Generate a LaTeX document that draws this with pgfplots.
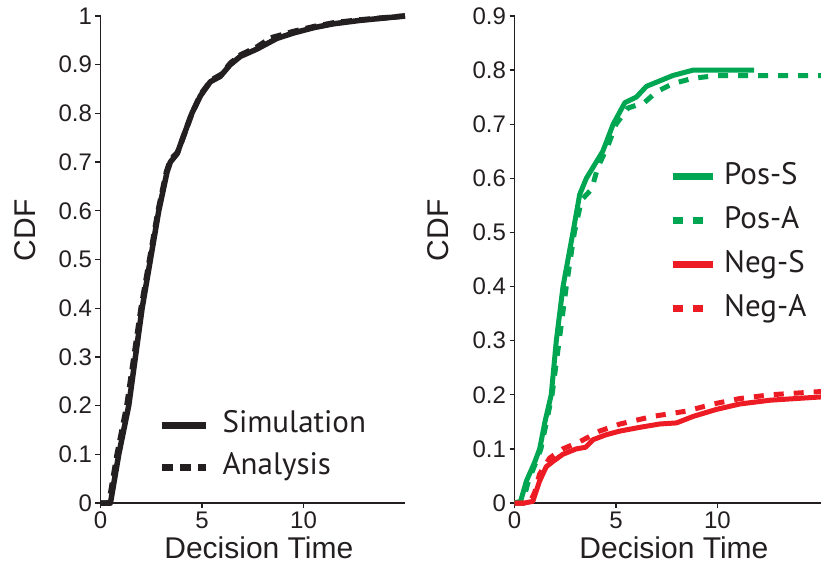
\documentclass[border=0pt]{standalone}
\usepackage{fontspec}
\setmainfont{Liberation Sans}
\newfontfamily\legfont{PT Sans}
\usepackage{pgfplots}
\pgfplotsset{compat=1.18}
\definecolor{cblack}{HTML}{231F20}
\definecolor{cgreen}{HTML}{00A651}
\definecolor{cred}{HTML}{ED1C24}

\pgfplotsset{
  cdfaxis/.style={
    scale only axis, height=487pt, ymin=0, xmin=0,
    axis x line*=bottom, axis y line*=left,
    axis line style={cblack, line width=1.3pt},
    every tick/.style={cblack, line width=1.3pt},
    tick align=outside, major tick length=5pt,
    xtick={0,5,10},
    tick label style={font=\fontsize{24}{28}\selectfont, text=cblack},
    /pgf/number format/assume math mode=true,
    label style={font=\fontsize{30}{34}\selectfont, text=cblack},
    xlabel={Decision Time}, ylabel={CDF},
    xlabel style={at={(axis description cs:0.52,-0.113)}, anchor=base},
    ylabel style={at={(axis description cs:-0.248,0.56)}, anchor=center},
    clip=false,
    legend cell align=left,
    legend style={draw=none, fill=none, inner sep=0pt,
      font=\legfont\fontsize{31}{36}\selectfont, text=cblack,
      row sep=13pt, column sep=13pt,
      nodes={inner sep=0pt, text height=22pt, text depth=7pt}},
  },
}

\begin{document}
\begin{tikzpicture}
\path[use as bounding box] (0,0) rectangle (821pt,563pt);

% ---------------- left panel ----------------
\begin{axis}[cdfaxis,
  at={(100.5pt,60pt)}, anchor=south west,
  width=304.5pt, xmax=15, ymax=1,
  ytick={0,0.1,0.2,0.3,0.4,0.5,0.6,0.7,0.8,0.9,1},
  legend image code/.code={\draw[#1, line width=7pt] (0pt,0pt) -- (44pt,0pt);},
  legend style={at={(axis description cs:0.19,0.19)}, anchor=north west},
]
\addplot[cblack, line width=5.5pt, line join=round] coordinates {
(0,0) (0.49,0) (0.9,0.1) (1.39,0.2) (1.72,0.3) (2.05,0.4) (2.46,0.5)
(2.87,0.6) (3.28,0.68) (3.44,0.7) (3.77,0.717) (4.5,0.8) (4.92,0.836)
(5.41,0.865) (5.9,0.876) (6.39,0.9) (6.89,0.917) (7.7,0.932) (8.69,0.954)
(9.5,0.965) (10.5,0.976) (11.48,0.984) (12.79,0.991) (15,1.0)};
\addlegendentry{Simulation}
\addplot[cblack, line width=5.5pt, dash pattern=on 11pt off 7pt] coordinates {
(0,0) (0.42,0) (0.82,0.1) (1.3,0.2) (1.65,0.3) (2.0,0.4) (2.42,0.5)
(2.84,0.6) (3.25,0.68) (3.45,0.705) (3.8,0.72) (4.5,0.8) (4.95,0.84)
(5.45,0.868) (5.95,0.88) (6.4,0.903) (6.9,0.92) (7.7,0.936) (8.4,0.955)
(9.5,0.968) (10.5,0.978) (11.5,0.986) (12.8,0.992) (15,1.0)};
\addlegendentry{Analysis}
\end{axis}

% ---------------- right panel ----------------
\begin{axis}[cdfaxis,
  at={(514.5pt,60pt)}, anchor=south west,
  width=306.5pt, xmax=15.1, ymax=0.9,
  ytick={0,0.1,0.2,0.3,0.4,0.5,0.6,0.7,0.8,0.9},
  legend image code/.code={\draw[#1, line width=7pt] (0pt,0pt) -- (40pt,0pt);},
  legend style={at={(axis description cs:0.504,0.70)}, anchor=north west,
    column sep=8pt, row sep=15pt},
]
\addplot[cgreen, line width=5pt, line join=round] coordinates {
(0,0) (0.3,0.003) (0.58,0.04) (0.99,0.075) (1.24,0.1) (1.5,0.15)
(1.81,0.2) (2.06,0.3) (2.39,0.4) (2.88,0.5) (3.21,0.57) (3.54,0.6)
(4.35,0.65) (4.86,0.7) (5.44,0.74) (6.0,0.75) (6.5,0.77) (7.15,0.78)
(7.8,0.79) (8.8,0.8) (11.8,0.8)};
\addlegendentry{Pos-S}
\addplot[cgreen, line width=5pt, dash pattern=on 10pt off 10pt] coordinates {
(0,0) (0.4,0) (0.68,0.04) (1.0,0.07) (1.3,0.1) (1.85,0.2) (2.2,0.3)
(2.55,0.4) (2.95,0.5) (3.3,0.56) (3.8,0.58) (4.1,0.62) (4.6,0.66)
(5.0,0.7) (5.6,0.73) (6.4,0.74) (7.0,0.76) (7.8,0.775) (8.8,0.785)
(10,0.79) (15.1,0.79)};
\addlegendentry{Pos-A}
\addplot[cred, line width=5pt, line join=round] coordinates {
(0,0) (0.5,0) (0.9,0.003) (1.23,0.04) (1.56,0.067) (1.9,0.077) (2.38,0.09)
(3.04,0.1) (3.5,0.103) (3.87,0.117) (4.5,0.126) (5.2,0.133) (6.2,0.14)
(7.15,0.146) (7.98,0.148) (8.8,0.16) (9.95,0.173) (11.1,0.183)
(12.6,0.19) (15.1,0.196)};
\addlegendentry{Neg-S}
\addplot[cred, line width=5pt, dash pattern=on 10pt off 10pt] coordinates {
(0,0) (0.74,0) (1.0,0.02) (1.23,0.053) (1.73,0.083) (2.38,0.1) (3.2,0.113)
(4.2,0.133) (5.2,0.146) (6.8,0.16) (8.5,0.17) (9.8,0.183) (11.1,0.193)
(12.6,0.2) (15.1,0.206)};
\addlegendentry{Neg-A}
\end{axis}
\end{tikzpicture}
\end{document}
